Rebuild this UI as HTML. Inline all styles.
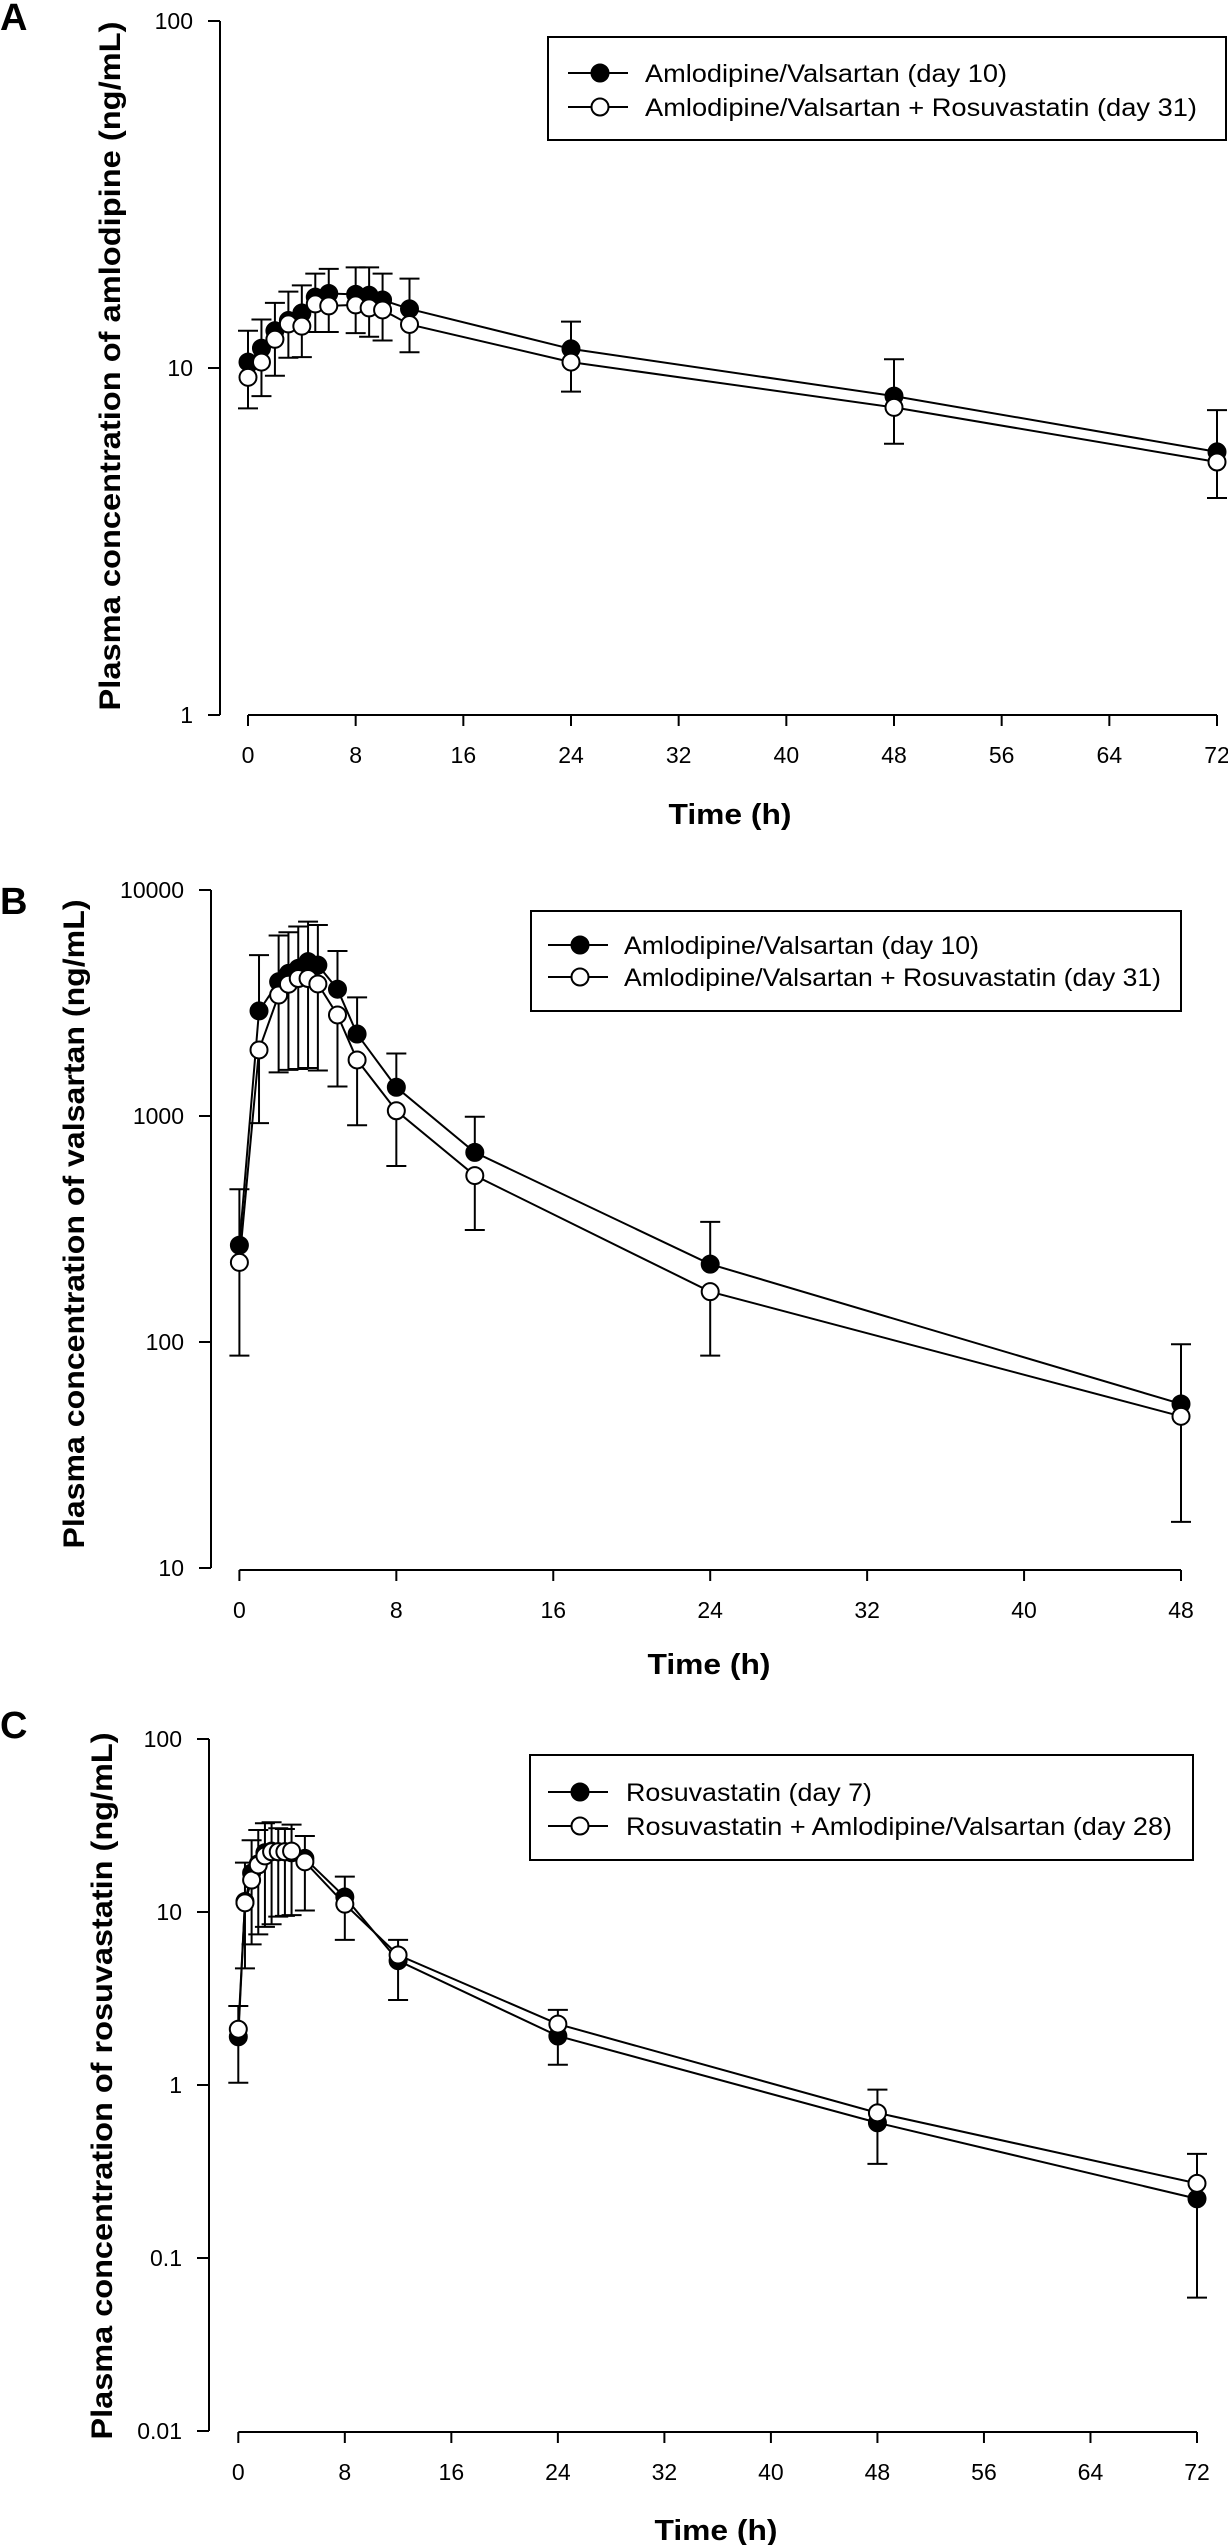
<!DOCTYPE html>
<html><head><meta charset="utf-8"><style>
html,body{margin:0;padding:0;background:#fff;}
svg{display:block;font-family:"Liberation Sans",Arial,sans-serif;}
</style></head><body>
<svg id="fig" width="1228" height="2545" viewBox="0 0 1228 2545" xmlns="http://www.w3.org/2000/svg"></svg>
<script>
// Panel A: amlodipine
const timesA = [0,1,2,3,4,5,6,8,9,10,12,24,48,72];
const amloDay10 = [10.4,11.4,12.8,13.7,14.4,16.0,16.4,16.3,16.2,15.7,14.8,11.35,8.3,5.73];
const amloDay31 = [9.4,10.4,12.1,13.4,13.2,15.3,15.1,15.2,14.9,14.7,13.35,10.4,7.7,5.36];
const amloDay10Upper = [12.8,13.8,15.4,16.6,17.3,18.7,19.3,19.5,19.5,18.7,18.1,13.6,10.6,7.56];
const amloDay31Lower = [7.65,8.3,9.5,10.7,10.75,12.7,12.7,12.6,12.3,12.0,11.1,8.55,6.05,4.22];
const xTicksA = [0,8,16,24,32,40,48,56,64,72];
const yTicksA = [1,10,100];
const yTickLabelsA = ["1","10","100"];
const legendA = ["Amlodipine/Valsartan (day 10)","Amlodipine/Valsartan + Rosuvastatin (day 31)"];

// Panel B: valsartan
const timesB = [0,1,2,2.5,3,3.5,4,5,6,8,12,24,48];
const valsDay10 = [268,2917,3925,4275,4500,4820,4650,3640,2305,1340,690,221,53.2];
const valsDay31 = [225,1960,3430,3830,4060,4060,3840,2800,1770,1055,545,167,46.9];
const valsDay10Upper = [474,5150,6290,6500,6890,7250,7000,5370,3350,1890,992,340,97.7];
const valsDay31Lower = [87,930,1560,1600,1615,1630,1590,1350,910,601,313,87,16.0];
const xTicksB = [0,8,16,24,32,40,48];
const yTicksB = [10,100,1000,10000];
const yTickLabelsB = ["10","100","1000","10000"];
const legendB = ["Amlodipine/Valsartan (day 10)","Amlodipine/Valsartan + Rosuvastatin (day 31)"];

// Panel C: rosuvastatin
const timesC = [0,0.5,1,1.5,2,2.5,3,3.5,4,5,8,12,24,48,72];
const rosuDay7 = [1.9,11.5,16.8,19,22,22.5,22.3,22.3,22.0,20.4,12.2,5.23,1.92,0.605,0.22];
const rosuDay28 = [2.1,11.3,15.3,18.7,21.1,22.3,22.3,22.3,22.5,19.5,11.1,5.64,2.25,0.69,0.27];
const rosuUpper = [2.86,19.3,26.0,29.8,32.6,33.0,30.5,30.2,32,27.5,16.0,6.9,2.72,0.94,0.40];
const rosuLower = [1.03,4.72,6.5,7.43,8.2,8.5,9.4,9.5,9.6,10.2,6.9,3.1,1.31,0.35,0.059];
const xTicksC = [0,8,16,24,32,40,48,56,64,72];
const yTicksC = [0.01,0.1,1,10,100];
const yTickLabelsC = ["0.01","0.1","1","10","100"];
const legendC = ["Rosuvastatin (day 7)","Rosuvastatin + Amlodipine/Valsartan (day 28)"];

const NS = "http://www.w3.org/2000/svg";
const svg = document.getElementById('fig');
function mk(tag, attrs, parent){
  const e = document.createElementNS(NS, tag);
  for (const k in attrs) e.setAttribute(k, attrs[k]);
  (parent||svg).appendChild(e);
  return e;
}

function panel(cfg){
  const g = mk('g',{});
  
  
  const xs = t => cfg.x0 + (t - cfg.xmin) * (cfg.x1 - cfg.x0) / (cfg.xmax - cfg.xmin);
  const ys = v => cfg.y0 + (Math.log10(cfg.ymax) - Math.log10(v)) * (cfg.y1 - cfg.y0) / (Math.log10(cfg.ymax) - Math.log10(cfg.ymin));

  // panel letter
  const L = mk('text',{x:0,y:cfg.letterY,'font-size':38,'font-weight':'bold'},g);
  L.textContent = cfg.letter;
  
  

  // y axis
  const ya = mk('line',{x1:cfg.yax,y1:ys(cfg.ymax),x2:cfg.yax,y2:ys(cfg.ymin),stroke:'#000','stroke-width':2},g);
  
  
  cfg.yTicks.forEach((v,i)=>{
    mk('line',{x1:cfg.yax-12,y1:ys(v),x2:cfg.yax,y2:ys(v),stroke:'#000','stroke-width':2},g);
    const t = mk('text',{x:cfg.yax-27,y:ys(v)+8,'font-size':23,'text-anchor':'end'},g);
    t.textContent = cfg.yLabels[i];
    
    
  });
  // x axis
  const xa = mk('line',{x1:xs(cfg.xmin),y1:cfg.xay,x2:xs(cfg.xmax),y2:cfg.xay,stroke:'#000','stroke-width':2},g);
  
  
  cfg.xTicks.forEach(v=>{
    mk('line',{x1:xs(v),y1:cfg.xay,x2:xs(v),y2:cfg.xay+11,stroke:'#000','stroke-width':2},g);
    const t = mk('text',{x:xs(v),y:cfg.xay+48,'font-size':23,'text-anchor':'middle'},g);
    t.textContent = String(v);
    
    
  });
  // titles
  const xt = mk('text',{x:cfg.xtX,y:cfg.xtY,'font-size':29,'font-weight':'bold','text-anchor':'middle',textLength:123,lengthAdjust:'spacingAndGlyphs'},g);
  xt.textContent = 'Time (h)';
  
  
  const yt = mk('text',{x:0,y:0,'font-size':30,'font-weight':'bold','text-anchor':'middle',textLength:cfg.ytLen,lengthAdjust:'spacingAndGlyphs',transform:`translate(${cfg.ytX},${cfg.ytY}) rotate(-90)`},g);
  yt.textContent = cfg.yTitle;
  
  

  // error bars
  const cap = 10;
  cfg.t.forEach((t,i)=>{
    const x = xs(t);
    const eu = mk('path',{d:`M${x},${ys(cfg.s1[i])}V${ys(cfg.up[i])}M${x-cap},${ys(cfg.up[i])}H${x+cap}`,stroke:'#000','stroke-width':2,fill:'none'},g);
    
    
    const el = mk('path',{d:`M${x},${ys(cfg.s2[i])}V${ys(cfg.lo[i])}M${x-cap},${ys(cfg.lo[i])}H${x+cap}`,stroke:'#000','stroke-width':2,fill:'none'},g);
    
    
  });
  // lines
  [cfg.s1,cfg.s2].forEach((s,k)=>{
    const p = mk('polyline',{points:cfg.t.map((t,i)=>xs(t)+','+ys(s[i])).join(' '),fill:'none',stroke:'#000','stroke-width':2},g);
    
    
  });
  const r = 8.5;
  cfg.t.forEach((t,i)=>{
    const c = mk('circle',{cx:xs(t),cy:ys(cfg.s1[i]),r:r,fill:'#000',stroke:'#000','stroke-width':2},g);
    
    
  });
  cfg.t.forEach((t,i)=>{
    const c = mk('circle',{cx:xs(t),cy:ys(cfg.s2[i]),r:r,fill:'#fff',stroke:'#000','stroke-width':2},g);
    
    
  });

  // legend
  const lg = mk('g',{},g);
  
  
  mk('rect',{x:cfg.lb[0],y:cfg.lb[1],width:cfg.lb[2]-cfg.lb[0],height:cfg.lb[3]-cfg.lb[1],fill:'#fff',stroke:'#000','stroke-width':2},lg);
  [0,1].forEach(k=>{
    const yy = cfg.lrows[k];
    const e = mk('g',{},lg);
    
    
    mk('line',{x1:cfg.lm-32,y1:yy,x2:cfg.lm+28,y2:yy,stroke:'#000','stroke-width':2},e);
    mk('circle',{cx:cfg.lm,cy:yy,r:r,fill:k===0?'#000':'#fff',stroke:'#000','stroke-width':2},e);
    const tx = mk('text',{x:cfg.lt,y:yy+9,'font-size':25,textLength:cfg.lw[k],lengthAdjust:'spacingAndGlyphs'},e);
    tx.textContent = cfg.legend[k];
  });
}

panel({name:'panel-a-amlodipine',letter:'A',letterY:30,x0:248,x1:1217,xmin:0,xmax:72,y0:21,y1:715,ymin:1,ymax:100,
  yax:220,xay:715,xTicks:xTicksA,yTicks:yTicksA,yLabels:yTickLabelsA,
  xtX:730,xtY:824,ytX:120,ytY:366,ytLen:689,yTitle:'Plasma concentration of amlodipine (ng/mL)',
  t:timesA,s1:amloDay10,s2:amloDay31,up:amloDay10Upper,lo:amloDay31Lower,
  lb:[548,37,1226,140],lrows:[73,107],lm:600,lt:645,lw:[362,552],legend:legendA});

panel({name:'panel-b-valsartan',letter:'B',letterY:914,x0:239.4,x1:1181,xmin:0,xmax:48,y0:890,y1:1568,ymin:10,ymax:10000,
  yax:211,xay:1570,xTicks:xTicksB,yTicks:yTicksB,yLabels:yTickLabelsB,
  xtX:709,xtY:1674,ytX:84,ytY:1224,ytLen:649,yTitle:'Plasma concentration of valsartan (ng/mL)',
  t:timesB,s1:valsDay10,s2:valsDay31,up:valsDay10Upper,lo:valsDay31Lower,
  lb:[531,911,1181,1011],lrows:[945,977],lm:580,lt:624,lw:[355,537],legend:legendB});

panel({name:'panel-c-rosuvastatin',letter:'C',letterY:1738,x0:238.3,x1:1197,xmin:0,xmax:72,y0:1739,y1:2431,ymin:0.01,ymax:100,
  yax:209,xay:2432,xTicks:xTicksC,yTicks:yTicksC,yLabels:yTickLabelsC,
  xtX:716,xtY:2540,ytX:112,ytY:2086,ytLen:707,yTitle:'Plasma concentration of rosuvastatin (ng/mL)',
  t:timesC,s1:rosuDay7,s2:rosuDay28,up:rosuUpper,lo:rosuLower,
  lb:[530,1755,1193,1860],lrows:[1792,1826],lm:580,lt:626,lw:[246,546],legend:legendC});
</script>
</body></html>
